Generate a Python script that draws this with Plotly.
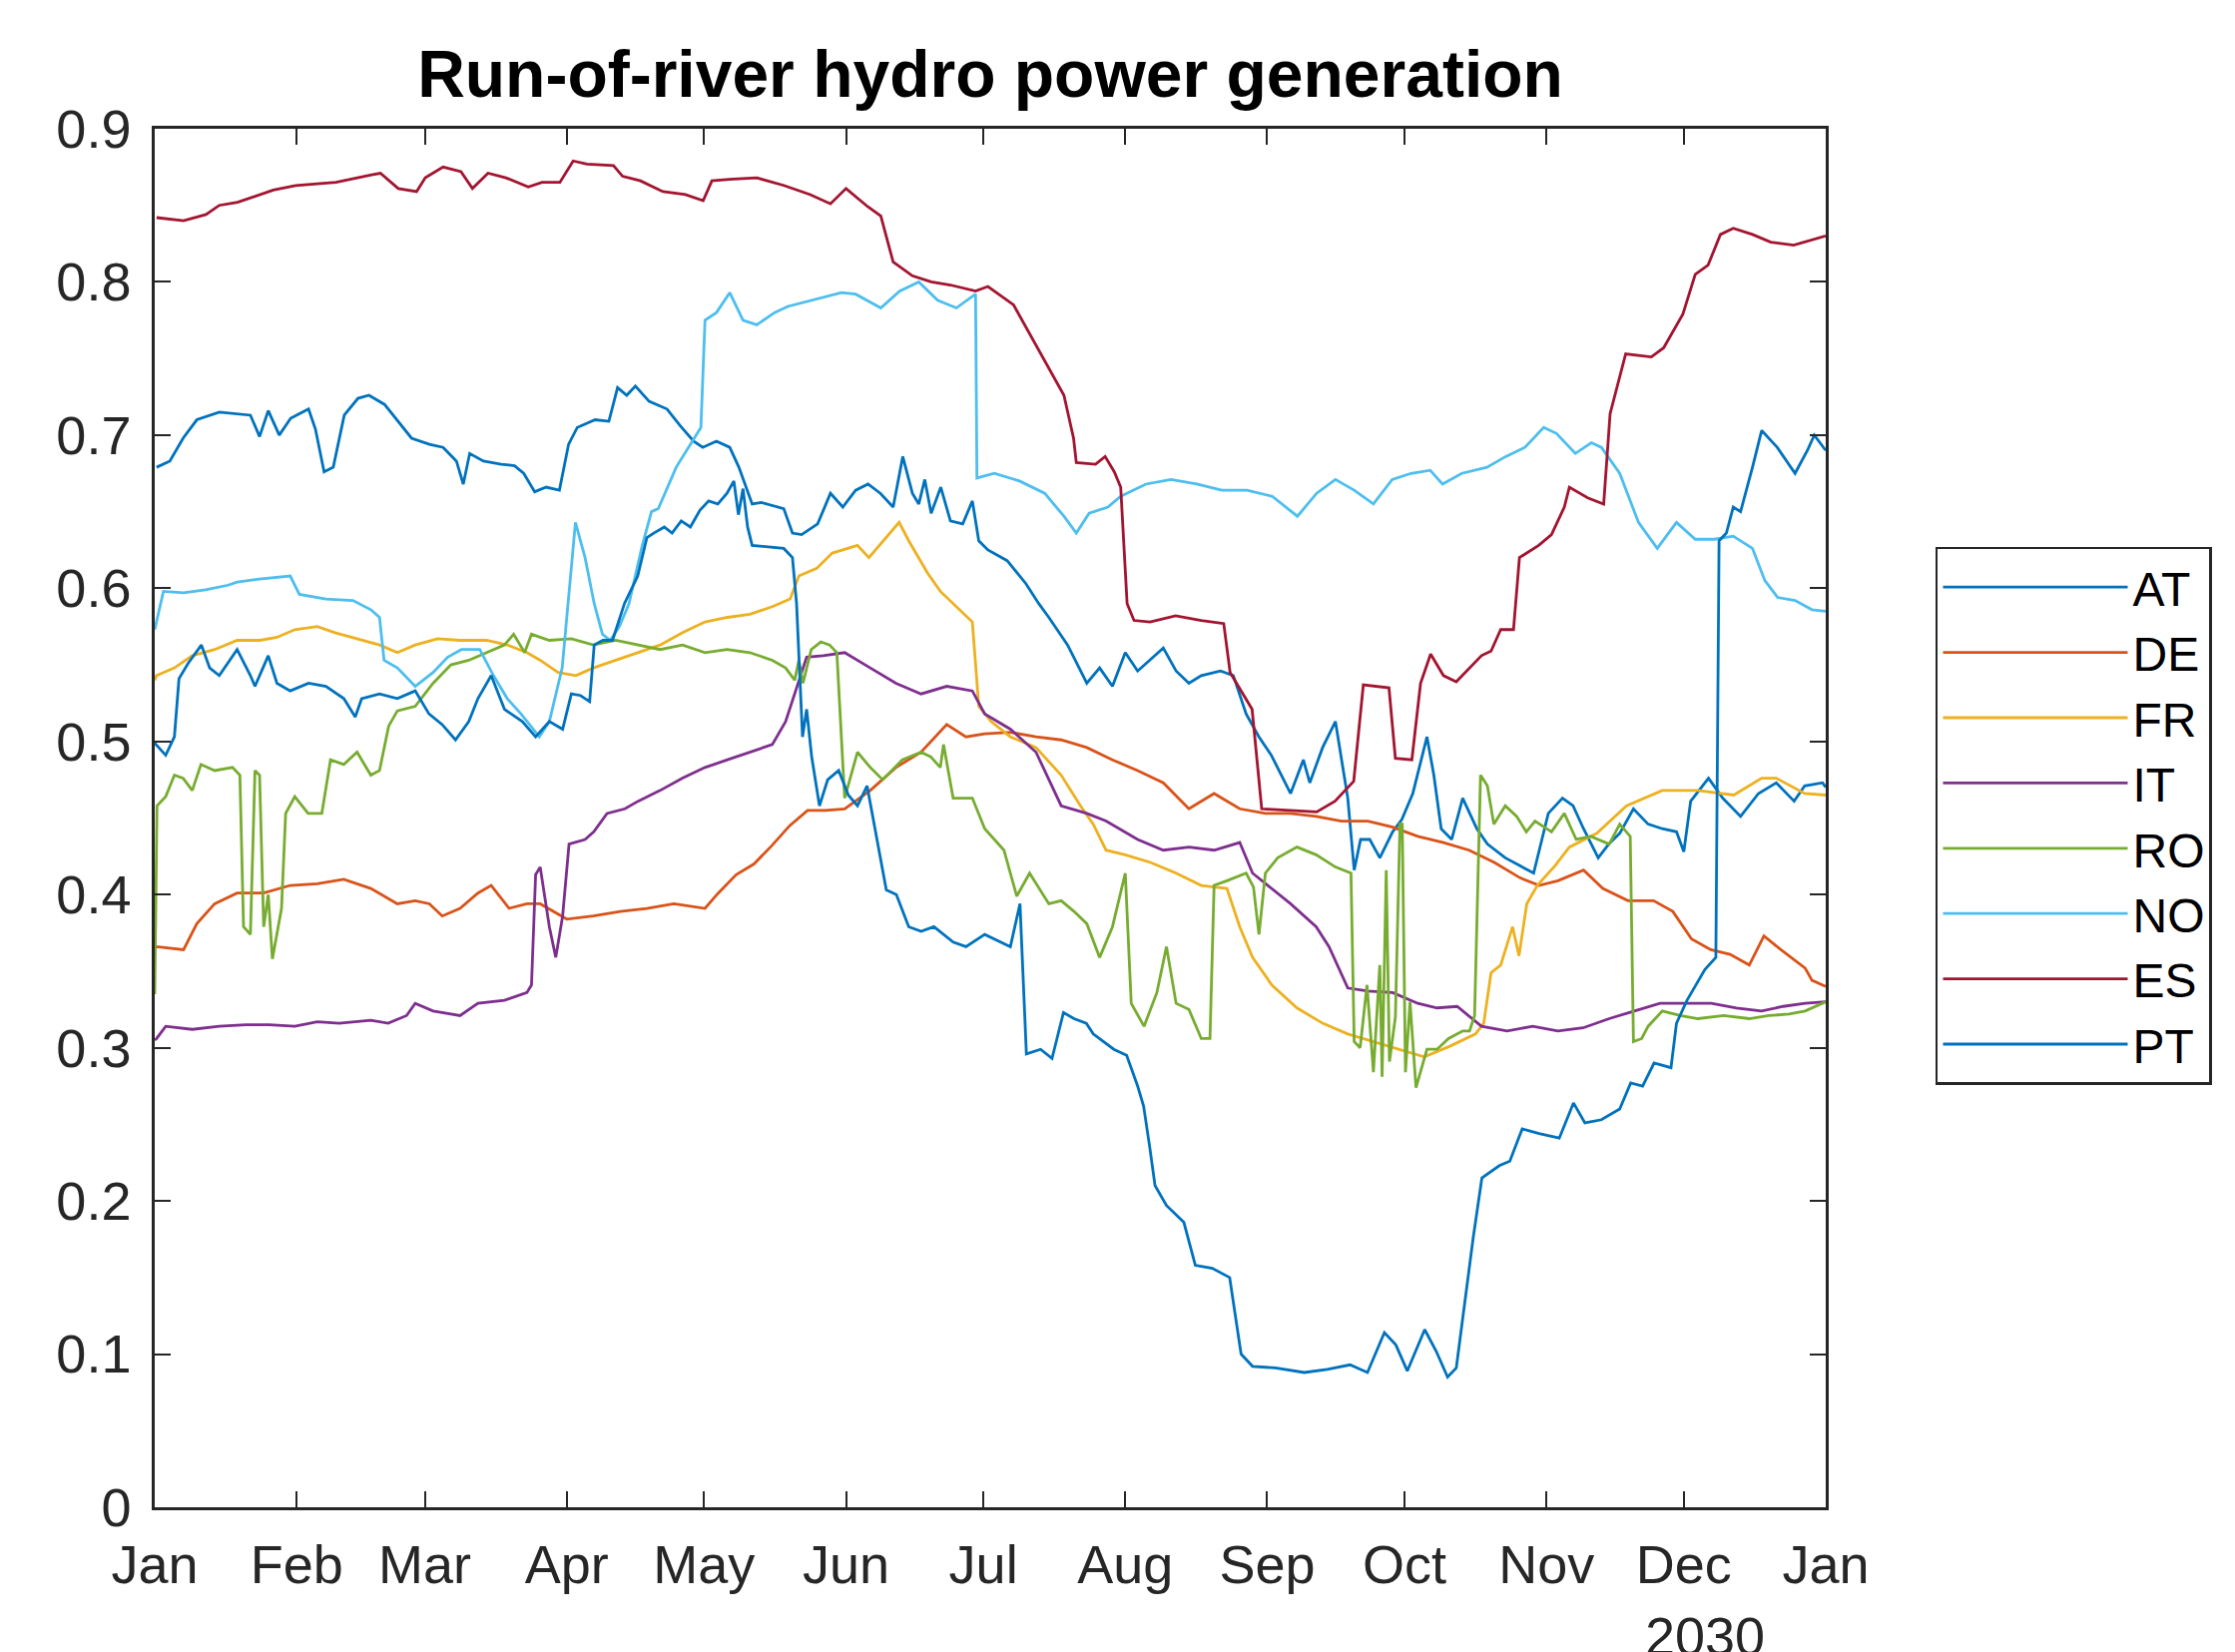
import pandas as pd
import plotly.graph_objects as go

# ---------------- data (day-of-year offsets from 1 Jan, capacity factor) ----------------
AT_DAYS = [0.4, 3.3, 6.2, 9.2, 14.1, 18, 20.9, 22.9, 24.8, 27.2, 29.7, 31.6, 33.6, 35.1, 37, 39, 41.4, 44.4, 46.8, 50.2,
           53.2, 56.1, 60, 63, 65.9, 67.4, 68.8, 71.8, 75.7, 78.6, 80.6, 83, 85.5, 88.4, 90.4, 92.3, 96.2, 99.2, 101.1, 103.1,
           105, 108, 111.9, 114.8, 117.7, 119.7, 122.7, 125.6, 127.6, 130.5, 132.5, 137.4, 139.3, 141.3, 144.8, 147.6,
           150.3, 153.1, 155.8, 158.5, 161.3, 163.4, 165.5, 166.9, 168.2, 169.6, 171.7, 173.8, 176.5, 178.6, 180, 182,
           186.2, 190.3, 193.1, 195.3, 199.4, 203.6, 206.4, 209.2, 212, 214.7, 220.3, 223.1, 225.9, 228.6, 232.8, 235.6,
           238.4, 241.2, 243.9, 248.1, 250.9, 252.3, 255.1, 257.9, 260.6, 262, 263.4, 265.4, 267.6, 270.4, 272.4, 274.8,
           277.9, 279.4, 281, 283.3, 285.7, 288.8, 291.1, 295, 298.1, 301.2, 304.4, 307.5, 309.8, 312.1, 315.3, 317.6,
           320, 323, 326.2, 329.3, 332.4, 334, 335.5, 339.4, 342.5, 344.9, 346.4, 350.3, 354.2, 358.1, 360.4, 364.3, 365]
AT_VALS = [0.679, 0.683, 0.698, 0.71, 0.715, 0.714, 0.713, 0.699, 0.716, 0.70, 0.711, 0.714, 0.717, 0.704, 0.676, 0.679,
           0.713, 0.724, 0.726, 0.72, 0.709, 0.698, 0.694, 0.692, 0.683, 0.668, 0.688, 0.683, 0.681, 0.68, 0.675, 0.663,
           0.666, 0.664, 0.694, 0.705, 0.71, 0.709, 0.731, 0.726, 0.732, 0.722, 0.717, 0.706, 0.696, 0.692, 0.696, 0.692,
           0.679, 0.655, 0.656, 0.652, 0.636, 0.635, 0.642, 0.662, 0.653, 0.664, 0.668, 0.662, 0.653, 0.686, 0.662, 0.655,
           0.671, 0.649, 0.666, 0.644, 0.642, 0.657, 0.631, 0.625, 0.618, 0.603, 0.59, 0.581, 0.563, 0.538, 0.548, 0.536,
           0.558, 0.546, 0.561, 0.546, 0.538, 0.543, 0.546, 0.543, 0.518, 0.503, 0.491, 0.466, 0.488, 0.473, 0.496, 0.513,
           0.463, 0.416, 0.436, 0.436, 0.424, 0.441, 0.449, 0.466, 0.503, 0.478, 0.443, 0.436, 0.463, 0.443, 0.433, 0.424,
           0.419, 0.414, 0.453, 0.463, 0.458, 0.443, 0.424, 0.433, 0.44, 0.456, 0.446, 0.443, 0.441, 0.428, 0.461, 0.476,
           0.463, 0.456, 0.451, 0.466, 0.473, 0.461, 0.471, 0.473, 0.47]

DE_DAYS = [0, 0.4, 6.3, 9.2, 13.1, 18, 23.8, 29.6, 35.5, 41.3, 47.2, 53, 56.9, 60, 62.8, 66.7, 70.6, 73.5, 77.4, 81.3,
           84.2, 90, 95.8, 101.7, 107.5, 113.4, 120.2, 123.1, 127, 130.9, 134.8, 138.7, 142.6, 146.5, 150.7, 156.3,
           161.9, 167.4, 173, 177.2, 181.3, 186.9, 192.5, 198, 203.6, 209.2, 214.7, 220.3, 225.9, 231.4, 237, 242.6,
           248, 253.7, 259.2, 265, 270.4, 275.9, 281.5, 287.1, 292.6, 298.2, 302.4, 306.5, 312.1, 316.3, 321.8, 327.4,
           331.6, 335.7, 339.9, 344.1, 348.3, 351.5, 355.2, 360.5, 362, 365]
DE_VALS = [0.365, 0.366, 0.364, 0.381, 0.394, 0.401, 0.401, 0.406, 0.407, 0.41, 0.404, 0.394, 0.396, 0.394, 0.386, 0.391,
           0.401, 0.406, 0.391, 0.394, 0.394, 0.384, 0.386, 0.389, 0.391, 0.394, 0.391, 0.401, 0.413, 0.42, 0.432, 0.445,
           0.455, 0.455, 0.456, 0.468, 0.483, 0.493, 0.511, 0.503, 0.505, 0.506, 0.503, 0.501, 0.496, 0.488, 0.481, 0.473,
           0.456, 0.466, 0.456, 0.453, 0.453, 0.451, 0.448, 0.448, 0.444, 0.438, 0.434, 0.429, 0.421, 0.411, 0.406, 0.409,
           0.416, 0.404, 0.396, 0.396, 0.389, 0.371, 0.364, 0.361, 0.354, 0.373, 0.364, 0.352, 0.344, 0.34]

FR_DAYS = [0, 0.4, 4.3, 8.2, 13.1, 18, 23, 26.7, 30.6, 35.5, 39.4, 44.2, 49.1, 53, 56.9, 61.8, 66.7, 72.5, 77, 81.3, 84.2,
           88.1, 92, 95.8, 100.7, 105.5, 110.4, 115.3, 120.2, 125.1, 130, 134.9, 138.8, 140.7, 144.6, 148, 153.5, 156,
           162.6, 164.7, 168.8, 171.6, 175.8, 178.6, 180, 182.7, 186.9, 192.5, 198, 202.2, 205, 207.8, 212, 217.5, 223.1,
           228.6, 234.2, 237, 239.8, 244, 249.5, 255.1, 260.6, 266.2, 271.8, 277.3, 282.9, 288.5, 290.3, 291.9, 294,
           296.6, 298, 299.7, 302, 305.9, 309, 315, 321.5, 329.3, 337, 344.9, 351, 354.2, 360.4, 365]
FR_VALS = [0.54, 0.543, 0.548, 0.556, 0.56, 0.566, 0.566, 0.568, 0.573, 0.575, 0.571, 0.567, 0.563, 0.558, 0.563, 0.567,
           0.566, 0.566, 0.563, 0.558, 0.553, 0.545, 0.543, 0.548, 0.553, 0.558, 0.563, 0.571, 0.578, 0.581, 0.583, 0.588,
           0.593, 0.608, 0.613, 0.623, 0.628, 0.62, 0.643, 0.631, 0.61, 0.598, 0.586, 0.578, 0.523, 0.513, 0.503, 0.496,
           0.478, 0.458, 0.446, 0.429, 0.426, 0.421, 0.414, 0.406, 0.404, 0.379, 0.359, 0.341, 0.326, 0.316, 0.309, 0.304,
           0.299, 0.294, 0.301, 0.309, 0.316, 0.349, 0.354, 0.379, 0.36, 0.394, 0.406, 0.419, 0.431, 0.44, 0.458, 0.468,
           0.468, 0.465, 0.476, 0.476, 0.466, 0.465]

IT_DAYS = [0, 0.4, 2.4, 8.2, 14.1, 19.9, 25, 30.6, 35.5, 40.3, 47.2, 51, 55, 56.9, 60.8, 66.7, 70.6, 76.4, 81.3, 82.3,
           83.2, 84.2, 86.2, 87.6, 89.1, 90.5, 94, 95.9, 98.8, 102.7, 105.6, 110.4, 115.3, 120.2, 125.1, 130, 134.9,
           137.8, 139.8, 142.4, 146, 150.7, 156.3, 161.9, 167.4, 173, 178.6, 181.3, 186.9, 192.5, 198, 203.6, 207.8,
           214.7, 220.3, 225.9, 231.4, 237, 239.8, 244, 248.1, 253.7, 256.5, 260.6, 265, 270.4, 275.9, 280.1, 284.5,
           289.8, 295.4, 301, 306.5, 312, 317.7, 323.2, 328.8, 334.4, 340, 345.5, 351, 355.7, 360.5, 365]
IT_VALS = [0.305, 0.306, 0.314, 0.312, 0.314, 0.315, 0.315, 0.314, 0.317, 0.316, 0.318, 0.316, 0.321, 0.329, 0.324, 0.321,
           0.329, 0.331, 0.336, 0.341, 0.413, 0.418, 0.379, 0.359, 0.386, 0.433, 0.436, 0.441, 0.453, 0.456, 0.461, 0.468,
           0.476, 0.483, 0.488, 0.493, 0.498, 0.513, 0.531, 0.555, 0.556, 0.558, 0.548, 0.538, 0.531, 0.536, 0.533, 0.518,
           0.508, 0.493, 0.458, 0.453, 0.448, 0.436, 0.429, 0.431, 0.429, 0.434, 0.414, 0.404, 0.394, 0.379, 0.366, 0.339,
           0.337, 0.336, 0.329, 0.326, 0.327, 0.314, 0.311, 0.314, 0.311, 0.313, 0.319, 0.324, 0.329, 0.329, 0.329, 0.326,
           0.324, 0.327, 0.329, 0.33]

RO_DAYS = [0, 0.5, 2.4, 4.3, 6.2, 8.2, 10.1, 13.1, 17, 18.6, 19.4, 20.9, 21.9, 22.9, 23.8, 24.8, 25.7, 27.7, 28.6, 30.6,
           33.5, 36.5, 38.4, 41.3, 44.2, 47.2, 49.1, 51.1, 53, 56.9, 60.8, 64.7, 68.6, 72.5, 76.4, 78.4, 80.8, 82.3, 86.2,
           91, 95.8, 100.7, 105.6, 110.4, 115.3, 120.2, 125, 130, 134.9, 137.8, 139.8, 140.7, 141.6, 143.4, 145.5, 147.4,
           149, 150.7, 153.5, 156.3, 159, 163.3, 167.4, 169.5, 171.6, 172.3, 174.4, 178.6, 181.3, 185.5, 188.3, 191.1,
           195.3, 198, 200.8, 203.6, 206.4, 209.2, 212, 213.3, 216.1, 218.9, 221, 223.1, 225.9, 228.6, 230.5, 231.4,
           234.2, 238.4, 240, 241.2, 242.6, 245.3, 249.5, 253.7, 257.9, 261.3, 262, 263.3, 264.8, 266.2, 267.6, 268.1,
           269, 269.7, 271, 272, 272.5, 273.2, 274.2, 275.5, 277.9, 280.1, 282.6, 285.7, 287.2, 288.3, 289.6, 291.1,
           292.5, 295, 297.5, 299.6, 301.5, 305.1, 307.9, 310.5, 313.7, 317.7, 320, 322.3, 323, 324.8, 326.2, 329.3,
           333.2, 337.1, 342.7, 348.3, 352.6, 357, 360.5, 365]
RO_VALS = [0.335, 0.458, 0.464, 0.478, 0.476, 0.468, 0.485, 0.481, 0.483, 0.478, 0.379, 0.374, 0.481, 0.478, 0.379, 0.40,
           0.358, 0.391, 0.453, 0.464, 0.453, 0.453, 0.488, 0.485, 0.493, 0.478, 0.481, 0.51, 0.52, 0.523, 0.538, 0.55,
           0.553, 0.558, 0.563, 0.57, 0.558, 0.57, 0.566, 0.567, 0.563, 0.566, 0.563, 0.56, 0.563, 0.558, 0.56, 0.558,
           0.553, 0.548, 0.54, 0.553, 0.538, 0.56, 0.565, 0.563, 0.558, 0.463, 0.493, 0.483, 0.475, 0.488, 0.493, 0.49,
           0.483, 0.498, 0.463, 0.463, 0.443, 0.429, 0.399, 0.414, 0.394, 0.396, 0.389, 0.381, 0.359, 0.379, 0.414, 0.329,
           0.314, 0.336, 0.366, 0.329, 0.325, 0.306, 0.306, 0.406, 0.409, 0.414, 0.405, 0.374, 0.414, 0.424, 0.431, 0.426,
           0.418, 0.414, 0.304, 0.30, 0.341, 0.284, 0.354, 0.281, 0.416, 0.291, 0.32, 0.446, 0.446, 0.284, 0.33, 0.274,
           0.299, 0.299, 0.306, 0.311, 0.311, 0.321, 0.478, 0.471, 0.446, 0.458, 0.451, 0.441, 0.448, 0.441, 0.453, 0.436,
           0.438, 0.433, 0.446, 0.438, 0.304, 0.306, 0.314, 0.324, 0.321, 0.319, 0.321, 0.319, 0.321, 0.322, 0.324, 0.33]

NO_DAYS = [0, 1.9, 6.3, 11.1, 16, 18, 22.8, 29.6, 31.6, 37.4, 43.3, 47.2, 49.1, 50.1, 53, 56.9, 60.8, 64, 67, 71, 74, 77,
           80, 84, 86.2, 89, 91.9, 94, 96, 97.8, 99.5, 101.5, 103.6, 106.5, 108.5, 110, 113.9, 117.8, 119.3, 120.2, 122.7,
           125.6, 128.5, 131.5, 135.4, 138.3, 142.2, 145.2, 150, 153.1, 158.6, 162.7, 166.9, 171, 175.1, 179.3, 179.6,
           183.4, 188.9, 194.4, 198.6, 201.3, 204.1, 208.2, 211, 216.5, 222, 227.6, 233.1, 238.6, 244.1, 249.6, 253.8,
           257.9, 262, 266.2, 270.3, 274.4, 278.6, 281.3, 285.5, 291, 295.1, 299.3, 303.4, 306.2, 310.3, 313.8, 316, 320,
           324.1, 328.2, 332.4, 336.5, 340.7, 344.8, 349, 351.7, 354.5, 358.3, 362, 365]
NO_VALS = [0.573, 0.598, 0.597, 0.599, 0.602, 0.604, 0.606, 0.608, 0.596, 0.593, 0.592, 0.586, 0.581, 0.553, 0.548, 0.536,
           0.545, 0.555, 0.56, 0.56, 0.543, 0.528, 0.518, 0.503, 0.513, 0.548, 0.643, 0.62, 0.59, 0.57, 0.566, 0.575, 0.59,
           0.628, 0.65, 0.652, 0.679, 0.698, 0.705, 0.775, 0.78, 0.793, 0.775, 0.772, 0.78, 0.784, 0.787, 0.789, 0.793,
           0.792, 0.783, 0.794, 0.80, 0.788, 0.783, 0.792, 0.672, 0.675, 0.67, 0.662, 0.647, 0.636, 0.649, 0.653, 0.66,
           0.668, 0.671, 0.668, 0.664, 0.664, 0.66, 0.647, 0.662, 0.671, 0.664, 0.655, 0.671, 0.675, 0.677, 0.668, 0.675,
           0.679, 0.686, 0.692, 0.705, 0.701, 0.688, 0.695, 0.692, 0.675, 0.643, 0.626, 0.643, 0.632, 0.632, 0.634, 0.626,
           0.605, 0.594, 0.592, 0.586, 0.585]

ES_DAYS = [0.4, 6.3, 11.2, 14.1, 18.1, 22, 25.9, 30.8, 39.6, 47.4, 49.3, 53.2, 57.2, 59.1, 63, 66.9, 69.4, 72.8, 76.7,
           81.6, 84.6, 88.5, 91.4, 94.4, 100.2, 102.2, 106.1, 111, 115.9, 119.8, 121.7, 125.6, 131.5, 137.4, 143.2,
           147.6, 151, 155.8, 158.6, 161.3, 165.5, 169.6, 173.8, 179.3, 182, 187.6, 191.7, 195.8, 198.6, 200.7, 201.3,
           205.5, 207.6, 209.6, 211, 212.4, 213.9, 217.4, 223, 228.6, 233.5, 234.9, 239.7, 241.8, 248.2, 253.8, 257.8,
           261.9, 264, 269.6, 271, 274.6, 276.5, 278.7, 281.5, 284.3, 289.8, 291.9, 294, 296.8, 298.1, 302.3, 305.1,
           307.9, 309, 313, 316.5, 317.9, 321.3, 326.9, 329.6, 333.8, 336.5, 339.3, 342, 344.8, 349, 353, 358, 365]
ES_VALS = [0.842, 0.84, 0.844, 0.85, 0.852, 0.856, 0.86, 0.863, 0.865, 0.87, 0.871, 0.861, 0.859, 0.868, 0.875, 0.872,
           0.861, 0.871, 0.868, 0.862, 0.865, 0.865, 0.879, 0.877, 0.876, 0.869, 0.866, 0.859, 0.857, 0.853, 0.866, 0.867,
           0.868, 0.863, 0.857, 0.851, 0.861, 0.849, 0.843, 0.813, 0.804, 0.80, 0.798, 0.794, 0.797, 0.785, 0.763, 0.741,
           0.726, 0.698, 0.682, 0.681, 0.686, 0.676, 0.666, 0.59, 0.579, 0.578, 0.582, 0.579, 0.577, 0.545, 0.521, 0.456,
           0.455, 0.454, 0.461, 0.474, 0.537, 0.535, 0.489, 0.488, 0.538, 0.557, 0.543, 0.539, 0.556, 0.559, 0.573, 0.573,
           0.62, 0.628, 0.635, 0.653, 0.666, 0.659, 0.655, 0.714, 0.753, 0.751, 0.757, 0.779, 0.805, 0.811, 0.831, 0.835,
           0.831, 0.826, 0.824, 0.83]

PT_DAYS = [0, 1.2, 2.4, 4.3, 5.3, 7.3, 10.2, 12, 14.1, 18, 20.9, 21.9, 24.8, 26.7, 29.6, 33.6, 37.4, 41.3, 43.8, 45.2,
           49.1, 53, 56.9, 59.9, 62.8, 65.7, 68.6, 70.6, 73.5, 76.4, 80.3, 83.2, 86.2, 89.1, 91, 93, 95, 96, 97.9, 100,
           102.6, 105.5, 107.5, 109, 111.3, 113, 115, 117, 119.1, 121, 123, 125, 126.5, 127.5, 128.5, 129.5, 130.5, 134,
           137.4, 139.3, 140.2, 141.5, 142.4, 143.5, 145.2, 147, 149.4, 151.5, 153.5, 155.6, 157.7, 159.8, 162, 164.7,
           167.4, 170.2, 174.4, 177.2, 181.3, 184, 186.9, 189, 190.4, 193.5, 196, 198.5, 200.8, 203.5, 205, 209.5, 212.3,
           214.7, 216, 217.3, 218.5, 221, 224.8, 227.3, 231, 234.8, 237.3, 239.8, 244.8, 251.1, 256.1, 261.1, 264.9,
           268.6, 271.1, 273.6, 277.4, 279.9, 282.4, 284.3, 286.1, 288, 289.9, 293.7, 296, 298.7, 302.4, 306.8, 309.9,
           312.4, 316, 320, 322.4, 325, 327.5, 331.2, 332.4, 334.7, 338.6, 341, 341.7, 343.3, 344.8, 346.4, 349, 351,
           354.4, 358.3, 361, 362.5, 365]
PT_VALS = [0.499, 0.495, 0.491, 0.503, 0.541, 0.551, 0.563, 0.548, 0.543, 0.56, 0.543, 0.536, 0.556, 0.538, 0.533, 0.538,
           0.536, 0.528, 0.516, 0.528, 0.531, 0.528, 0.533, 0.518, 0.511, 0.501, 0.513, 0.528, 0.543, 0.521, 0.513, 0.503,
           0.513, 0.508, 0.531, 0.53, 0.526, 0.563, 0.566, 0.566, 0.59, 0.608, 0.633, 0.636, 0.64, 0.636, 0.644, 0.64,
           0.651, 0.657, 0.655, 0.662, 0.67, 0.648, 0.665, 0.64, 0.628, 0.627, 0.626, 0.62, 0.59, 0.503, 0.521, 0.49,
           0.458, 0.475, 0.481, 0.465, 0.458, 0.471, 0.438, 0.403, 0.40, 0.379, 0.376, 0.379, 0.369, 0.366, 0.374, 0.37,
           0.366, 0.394, 0.296, 0.299, 0.293, 0.323, 0.319, 0.316, 0.309, 0.299, 0.295, 0.275, 0.262, 0.236, 0.21, 0.197,
           0.186, 0.158, 0.156, 0.15, 0.10, 0.092, 0.091, 0.088, 0.09, 0.093, 0.088, 0.114, 0.106, 0.089, 0.116, 0.102,
           0.085, 0.091, 0.132, 0.176, 0.215, 0.223, 0.226, 0.247, 0.244, 0.241, 0.264, 0.251, 0.253, 0.26, 0.277, 0.275,
           0.29, 0.287, 0.316, 0.331, 0.351, 0.359, 0.631, 0.636, 0.653, 0.65, 0.679, 0.703, 0.692, 0.675, 0.69, 0.70,
           0.69]

SERIES_NAMES = ["AT", "DE", "FR", "IT", "RO", "NO", "ES", "PT"]
SERIES_DAYS = [AT_DAYS, DE_DAYS, FR_DAYS, IT_DAYS, RO_DAYS, NO_DAYS, ES_DAYS, PT_DAYS]
SERIES_VALS = [AT_VALS, DE_VALS, FR_VALS, IT_VALS, RO_VALS, NO_VALS, ES_VALS, PT_VALS]
SERIES_COLORS = ["#0072BD", "#D95319", "#EDB120", "#7E2F8E", "#77AC30", "#4DBEEE", "#A2142F", "#0072BD"]

START = "2029-01-01"
MONTH_TICKS = pd.date_range("2029-01-01", "2030-01-01", freq="MS")
MONTH_LABELS = ["Jan", "Feb", "Mar", "Apr", "May", "Jun", "Jul", "Aug", "Sep", "Oct", "Nov", "Dec", "Jan"]
Y_TICKS = [0, 0.1, 0.2, 0.3, 0.4, 0.5, 0.6, 0.7, 0.8, 0.9]
Y_LABELS = ["0", "0.1", "0.2", "0.3", "0.4", "0.5", "0.6", "0.7", "0.8", "0.9"]

FONT = "Liberation Sans, Arial, Helvetica, sans-serif"
INK = "#262626"

base = pd.Timestamp(START)
fig = go.Figure()
for name, d, v, c in zip(SERIES_NAMES, SERIES_DAYS, SERIES_VALS, SERIES_COLORS):
    x = base + pd.to_timedelta(d, unit="D")
    fig.add_trace(go.Scatter(x=x, y=v, mode="lines", name=name,
                             line=dict(color=c, width=2.8)))

axis_common = dict(showline=True, linewidth=2.5, linecolor=INK, mirror="ticks",
                   ticks="inside", ticklen=16, tickwidth=2, tickcolor=INK,
                   showgrid=False, zeroline=False,
                   tickfont=dict(family=FONT, size=54, color=INK))

fig.update_xaxes(type="date", range=[MONTH_TICKS[0], MONTH_TICKS[-1]],
                 tickvals=MONTH_TICKS, ticktext=MONTH_LABELS,
                 ticklabelstandoff=8, **axis_common)
fig.update_yaxes(range=[0, 0.9], tickvals=Y_TICKS, ticktext=Y_LABELS,
                 ticklabelstandoff=10, **axis_common)

fig.update_layout(
    width=2239, height=1655, autosize=False,
    margin=dict(l=147, r=418, t=121, b=153),
    paper_bgcolor="white", plot_bgcolor="white",
    title=dict(text="Run-of-river hydro power generation",
               font=dict(family=FONT, size=66, color="black", weight="bold"),
               x=0.5, xref="paper", xanchor="center",
               y=0.96, yref="container", yanchor="middle"),
    legend=dict(x=1.0657, y=0.6966, xanchor="left", yanchor="top",
                bordercolor=INK, borderwidth=2.5, bgcolor="white",
                font=dict(family=FONT, size=48, color="black"),
                itemwidth=185, tracegroupgap=0),
    showlegend=True,
)

fig.add_annotation(text="2030", xref="paper", yref="paper", x=0.928, y=-0.07,
                   xanchor="center", yanchor="top", showarrow=False,
                   font=dict(family=FONT, size=54, color=INK))

fig.write_html("out.html")
